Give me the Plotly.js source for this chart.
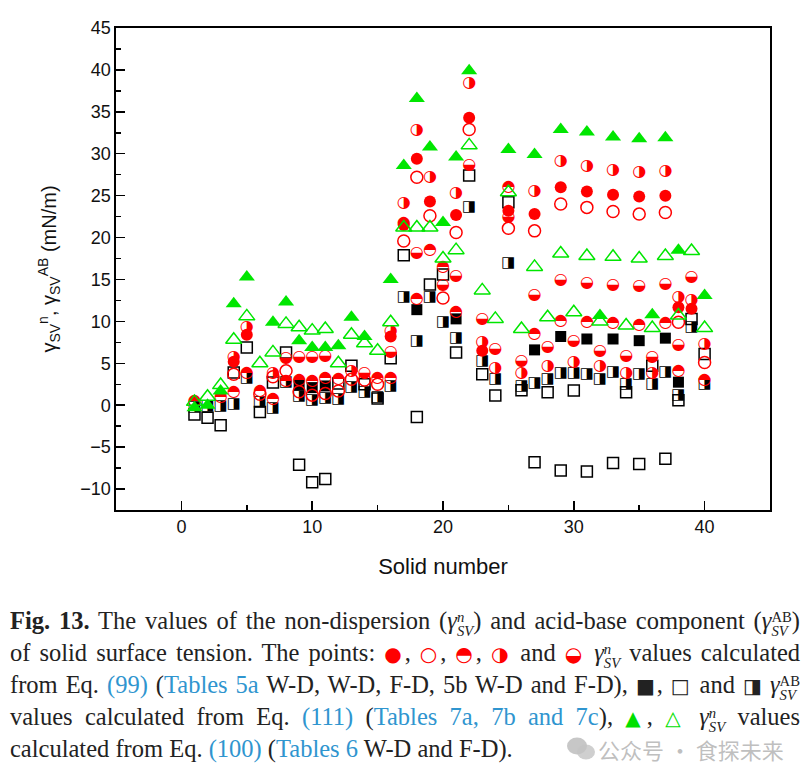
<!DOCTYPE html>
<html>
<head>
<meta charset="utf-8">
<script src="https://cdn.plot.ly/plotly-3.0.1.min.js"></script>
<style>
  body { margin:0; padding:0; background:#fff; width:811px; height:777px; overflow:hidden; position:relative; }
  #plot { position:absolute; left:0; top:0; width:811px; height:595px; }
  #cap { position:absolute; left:10px; top:605px; width:790px; font-family:"Liberation Serif","DejaVu Serif",serif; font-size:24.5px; color:#222; }
  #cap .ln { height:32px; line-height:32px; white-space:nowrap; text-align:justify; text-align-last:justify; }
  #cap .ln.last { text-align:left; text-align-last:left; }
  #cap .lk { color:#2f95cf; }
  #cap .gm { display:inline-block; position:relative; font-style:italic; }
  #cap .ss { display:inline-block; vertical-align:-0.45em; font-size:0.6em; line-height:0.95; text-align:left; font-style:italic; }
  #cap .ss span { display:block; }
  #cap .sym { font-family:"DejaVu Sans",sans-serif; font-size:20px; }
  #wm { position:absolute; left:598px; top:733px; font-family:"Noto Sans CJK SC",sans-serif; font-size:22px; color:rgba(170,170,170,0.75); }
  #wmlogo { position:absolute; left:566px; top:736px; width:30px; height:26px; }
</style>
</head>
<body>
<div id="plot"></div>
<div id="cap">
  <div class="ln"><b>Fig. 13.</b> The values of the non-dispersion (<span class="gm">γ</span><span class="ss"><span>n</span><span>SV</span></span>) and acid-base component (<span class="gm">γ</span><span class="ss"><span style="font-style:normal">AB</span><span>SV</span></span>)</div>
  <div class="ln">of solid surface tension. The points: <span class="sym" style="color:#f00">●</span>, <span class="sym" style="color:#f00">○</span>, <span class="sym" style="color:#f00">◓</span>, <span class="sym" style="color:#f00">◑</span> and <span class="sym" style="color:#f00">◒</span> <span class="gm">γ</span><span class="ss"><span>n</span><span>SV</span></span> values calculated</div>
  <div class="ln">from Eq. <span class="lk">(99)</span> (<span class="lk">Tables 5a</span> W-D, W-D, F-D, 5b W-D and F-D), <span class="sym">■</span>, <span class="sym">□</span> and <span class="sym">◨</span> <span class="gm">γ</span><span class="ss"><span style="font-style:normal">AB</span><span>SV</span></span></div>
  <div class="ln">values calculated from Eq. <span class="lk">(111)</span> (<span class="lk">Tables 7a, 7b and 7c</span>), <span class="sym" style="color:#00e000">▲</span>, <span class="sym" style="color:#00e000">△</span> <span class="gm">γ</span><span class="ss"><span>n</span><span>SV</span></span> values</div>
  <div class="ln last">calculated from Eq. <span class="lk">(100)</span> (<span class="lk">Tables 6</span> W-D and F-D).</div>
</div>
<svg id="wmlogo" viewBox="0 0 30 26"><ellipse cx="11" cy="10" rx="10" ry="8.5" fill="rgba(175,175,175,0.7)"/><ellipse cx="20" cy="16" rx="9" ry="7.5" fill="rgba(195,195,195,0.8)"/></svg>
<div id="wm">公众号 · 食探未来</div>
<script>
// Solid numbers
const solids = [1,2,3,4,5,6,7,8,9,10,11,12,13,14,15,16,17,18,19,20,21,22,23,24,25,26,27,28,29,30,31,32,33,34,35,36,37,38,39,40];

// γSV^n from Eq. (99): Tables 5a W-D (filled circle)
const redFilled = [null,null,null,5.2,8.4,null,null,null,null,null,null,null,null,null,null,8.2,21.5,29.4,24.3,null,22.7,34.3,6.5,null,23.2,null,22.8,null,26.0,null,25.5,null,25.1,null,24.9,null,25.0,11.7,11.5,null];
// Tables 5a W-D (open circle)
const redOpen = [null,null,null,3.7,null,1.3,3.4,4.1,1.6,1.2,1.4,1.7,3.1,3.0,2.5,null,19.6,27.2,22.6,12.8,20.6,32.9,null,null,21.1,null,20.8,null,24.0,null,23.6,null,23.1,null,22.8,null,23.0,9.9,null,5.1];
// Tables 5a F-D (upper half filled)
const redTopHalf = [0.5,null,0.95,1.55,3.8,1.7,0.8,2.9,3.0,2.9,3.3,3.1,null,null,3.2,3.3,21.7,12.7,18.5,16.5,11.1,null,null,null,26.0,null,8.5,null,10.1,null,9.9,null,9.8,null,9.6,null,9.8,4.1,null,3.0];
// Tables 5b W-D (right half filled)
const redRightHalf = [null,null,null,5.7,9.3,null,3.9,null,null,null,null,null,4.1,null,null,8.9,24.1,32.8,27.2,null,25.3,38.4,7.5,4.5,null,3.8,25.5,4.7,29.1,5.1,28.5,4.7,28.1,3.9,27.8,3.8,28.0,12.9,12.5,7.3];
// Tables 5b F-D (lower half filled)
const redBottomHalf = [null,null,null,null,null,null,null,5.6,5.8,5.7,5.9,null,null,3.9,null,6.4,null,18.2,null,14.4,15.4,28.6,10.3,6.7,22.4,5.3,13.1,6.9,14.9,7.7,14.6,6.5,14.4,5.9,14.25,5.7,14.5,7.2,15.3,null];

// γSV^AB from Eq. (111): Tables 7a (filled square), 7b (open square), 7c (right half square)
const blkFilled = [null,null,null,null,null,null,null,null,2.4,2.1,2.3,null,null,null,null,null,null,11.4,null,null,10.3,null,null,null,null,null,6.6,null,8.2,null,7.9,null,7.9,null,7.7,null,8.0,2.75,null,null];
const blkOpen = [-1.1,-1.5,-2.4,3.9,6.9,-0.8,2.7,6.3,-7.1,-9.2,-8.8,2.6,4.7,2.5,0.8,5.6,17.9,-1.4,14.4,15.6,6.3,27.4,3.7,1.15,24.2,1.8,-6.8,1.55,-7.8,1.75,-7.9,null,-6.9,1.55,-7.0,4.7,-6.4,0.6,10.3,6.1];
const blkHalf = [-0.3,-0.1,-0.1,0.1,3.2,0.35,-0.4,2.7,1.1,0.6,0.8,0.7,2.15,1.5,1.0,2.3,12.9,7.6,12.9,9.9,8.0,23.6,5.2,3.15,16.9,2.3,2.6,3.15,3.8,3.8,3.65,3.15,3.95,2.55,3.65,2.55,3.95,1.15,9.3,2.5];

// γSV^n from Eq. (100): Tables 6 W-D (filled triangle), F-D (open triangle)
const grnFilled = [-0.3,0.0,1.7,12.1,15.3,null,9.9,12.3,7.7,6.9,6.9,7.1,10.5,8.2,null,15.0,28.6,36.6,30.8,21.8,29.6,39.9,null,null,30.5,null,29.9,null,32.9,null,32.6,10.7,32.0,null,31.8,10.8,31.9,18.5,null,13.1];
const grnOpen = [0.4,1.0,2.4,7.8,10.6,5.0,6.3,9.7,9.3,8.9,9.1,5.0,8.4,7.4,6.5,9.9,21.2,21.2,21.2,17.5,18.5,31.0,13.7,10.3,25.4,9.1,16.5,10.5,18.1,11.1,17.8,10.0,17.7,9.5,17.5,9.2,17.8,10.7,18.4,9.2];

const RED = '#ff0000', GRN = '#00e600', BLK = '#000000';

function present(y) {
  const xs = [], ys = [];
  y.forEach((v, i) => { if (v !== null) { xs.push(solids[i]); ys.push(v); } });
  return { xs, ys };
}
function markerTrace(y, symbol, color, size, lw) {
  const p = present(y);
  return { x: p.xs, y: p.ys, type: 'scatter', mode: 'markers', hoverinfo: 'x+y',
    marker: { symbol: symbol, size: size, color: color, line: { color: color, width: lw } } };
}
function glyphTrace(y, glyph, color, size) {
  const p = present(y);
  return { x: p.xs, y: p.ys, type: 'scatter', mode: 'text', hoverinfo: 'x+y',
    text: p.ys.map(() => glyph), textposition: 'middle center',
    textfont: { family: 'DejaVu Sans', size: size, color: color } };
}

const traces = [
  markerTrace(blkOpen, 'square-open', BLK, 11, 1.5),
  glyphTrace(blkHalf, '◨', BLK, 15),
  markerTrace(blkFilled, 'square', BLK, 11, 0),
  markerTrace(redOpen, 'circle-open', RED, 12, 1.5),
  glyphTrace(redBottomHalf, '◒', RED, 16),
  glyphTrace(redTopHalf, '◓', RED, 16),
  glyphTrace(redRightHalf, '◑', RED, 16),
  markerTrace(redFilled, 'circle', RED, 12, 0),
  markerTrace(grnOpen, 'triangle-up-open', GRN, 14, 1.5),
  markerTrace(grnFilled, 'triangle-up', GRN, 14, 0)
];

const axisCommon = {
  showgrid: false, zeroline: false, showline: true, linecolor: '#000', linewidth: 1.6,
  mirror: true, ticks: 'inside', ticklen: 9, tickwidth: 1.5, tickcolor: '#000',
  tickfont: { family: 'Liberation Sans, Arial, sans-serif', size: 18, color: '#111' }
};

const layout = {
  width: 811, height: 595,
  margin: { l: 116, r: 41, t: 28, b: 85 },
  paper_bgcolor: '#fff', plot_bgcolor: '#fff',
  showlegend: false,
  xaxis: Object.assign({}, axisCommon, {
    range: [-5, 45], tick0: 0, dtick: 10,
    minor: { dtick: 5, tick0: 0, ticks: 'inside', ticklen: 5, tickwidth: 1.5, tickcolor: '#000', showgrid: false },
    title: { text: 'Solid number', font: { family: 'Liberation Sans, Arial, sans-serif', size: 22, color: '#111' }, standoff: 22 }
  }),
  yaxis: Object.assign({}, axisCommon, {
    range: [-12.5, 45], tick0: 0, dtick: 5,
    minor: { dtick: 2.5, tick0: 0, ticks: 'inside', ticklen: 5, tickwidth: 1.5, tickcolor: '#000', showgrid: false },
    title: { text: 'γ<sub>SV</sub><sup>n</sup>, γ<sub>SV</sub><sup>AB</sup> (mN/m)', font: { family: 'Liberation Sans, Arial, sans-serif', size: 20, color: '#111' }, standoff: 18 }
  })
};

Plotly.newPlot('plot', traces, layout, { displayModeBar: false, staticPlot: true });
</script>
</body>
</html>
